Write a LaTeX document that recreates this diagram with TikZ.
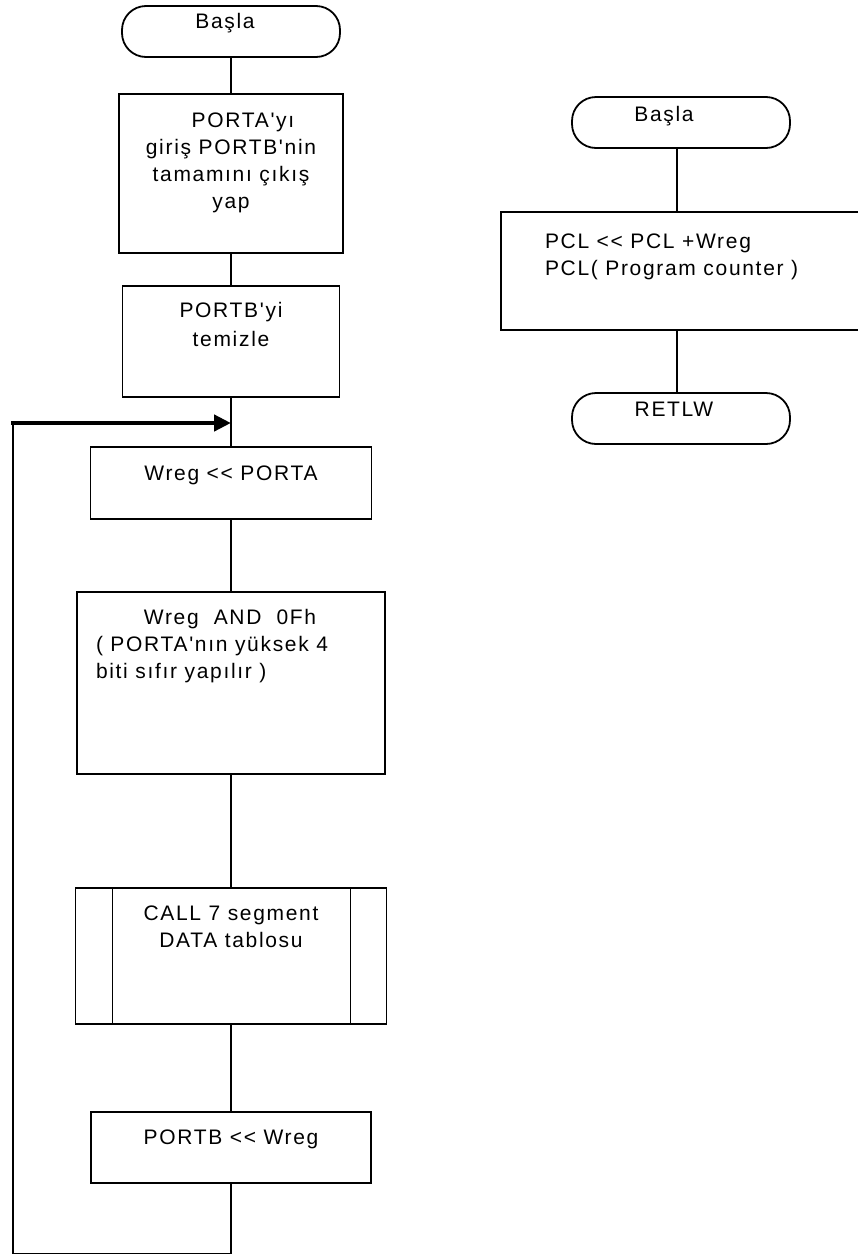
\documentclass[tikz,border=0pt]{standalone}
\usepackage{fontspec}
\setmainfont{Liberation Sans}[Ligatures=TeXOff, LetterSpace=8]
\usetikzlibrary{arrows.meta}
\newcommand\tbx[5]{\parbox[c][#2][t]{#1}{#4\rule{0pt}{#3}#5\par\vfill}}
\tikzset{
  flow/.style={draw, line width=1.8pt, inner sep=0pt, outer sep=0pt,
    font=\fontsize{21}{27}\selectfont},
  term/.style={flow, rounded corners=24pt},
  link/.style={line width=1.8pt},
  back/.style={line width=4.5pt, -{Triangle[length=17pt,width=16pt]}},
}
\begin{document}
\begin{tikzpicture}[x=1pt,y=-1pt]
\clip (0,0) rectangle (858,1256);
% left flow
\node[term] (start) at (231,31.5) {\tbx{218pt}{51pt}{22pt}{\centering}{Başla\hspace*{12pt}\mbox{}}};
\node[flow] (b1) at (231,173.5) {\tbx{224pt}{159pt}{33pt}{\centering}{\hspace*{24pt}PORTA'yı\\giriş PORTB'nin\\tamamını çıkış\\yap}};
\node[flow] (b2) at (231,341.5) {\tbx{217pt}{111pt}{31pt}{\centering}{PORTB'yi\\[2pt]temizle}};
\node[flow] (b3) at (231,483) {\tbx{281pt}{72pt}{33pt}{\centering}{Wreg << PORTA}};
\node[flow] (b4) at (231,683) {\tbx{308pt}{182pt}{32pt}{\raggedright\leftskip=19pt}{\hspace*{-19pt}\makebox[306pt][c]{Wreg\ \ AND\ \ 0Fh}\\( PORTA'nın yüksek 4\\biti sıfır yapılır )}};
\node[flow] (b5) at (231,956) {\tbx{311pt}{136pt}{32pt}{\centering}{CALL 7 segment\\DATA tablosu}};
\node[flow] (b6) at (231,1147.5) {\tbx{280pt}{71pt}{32pt}{\centering}{PORTB << Wreg}};
\draw[link] ([xshift=37pt]b5.north west) -- ([xshift=37pt]b5.south west);
\draw[link] ([xshift=-36pt]b5.north east) -- ([xshift=-36pt]b5.south east);
\draw[link] (start) -- (b1);
\draw[link] (b1) -- (b2);
\draw[link] (b2) -- (b3);
\draw[link] (b3) -- (b4);
\draw[link] (b4) -- (b5);
\draw[link] (b5) -- (b6);
\coordinate (lb) at (13,1253.5);
\coordinate (lt) at (13,423);
\coordinate (j) at (b2.south |- lt);
\draw[link] (b6.south) |- (lb) -- (lt);
\draw[back] ([xshift=-2pt]lt) -- (j);
% right flow
\node[term] (rs) at (681,122.5) {\tbx{218pt}{51pt}{24pt}{\centering}{Başla\hspace*{34pt}\mbox{}}};
\node[flow] (rb) at (685.5,271) {\tbx{369pt}{118pt}{36pt}{\raggedright\leftskip=44pt}{PCL << PCL +Wreg\\PCL( Program counter )}};
\node[term] (re) at (681,418.5) {\tbx{218pt}{51pt}{23pt}{\centering}{RETLW\hspace*{14pt}\mbox{}}};
\draw[link] ([xshift=-4pt]rs.south) -- ([xshift=-4pt]rs.south |- rb.north);
\draw[link] ([xshift=-4pt]re.north |- rb.south) -- ([xshift=-4pt]re.north);
\end{tikzpicture}
\end{document}
